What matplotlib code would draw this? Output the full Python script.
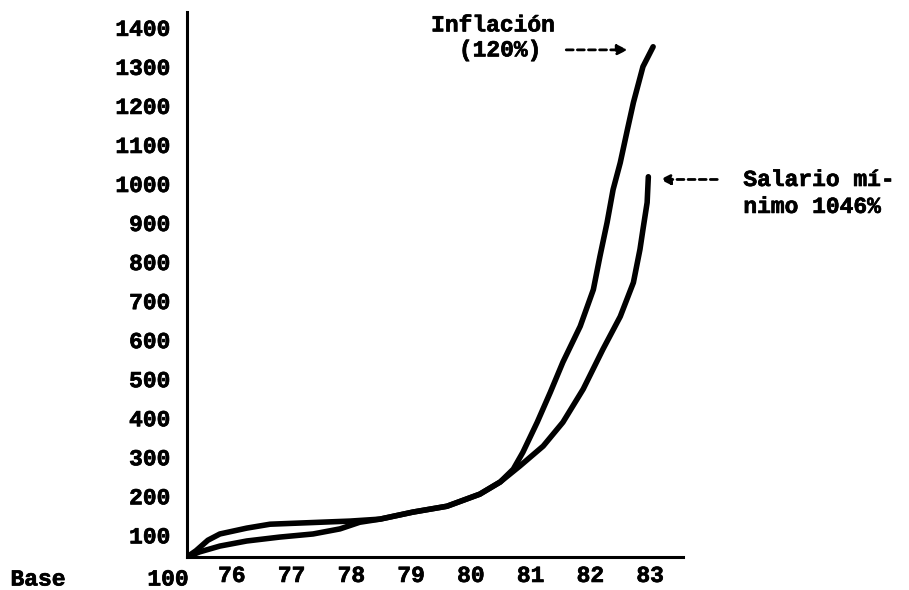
import matplotlib.pyplot as plt
import matplotlib.patheffects as pe

# typewritten chart: Base 100 = 1975
# the two curves split at the start, join around 78, split again after 80
infl_years = [75.25, 75.46, 75.80, 76.25, 76.80, 77.36, 77.81, 78.14,
              78.48, 79.03, 79.60, 80.15, 80.49, 80.71, 80.87, 81.11,
              81.33, 81.54, 81.83, 82.05, 82.16, 82.28, 82.38, 82.50,
              82.62, 82.72, 82.88, 83.05]
inflacion = [42, 55, 70, 83, 93, 101, 114, 131,
             139, 157, 172, 203, 234, 267, 310, 387,
             464, 541, 633, 727, 812, 899, 983, 1052,
             1137, 1206, 1298, 1349]

sal_years = [75.25, 75.40, 75.60, 75.80, 76.25, 76.64, 77.14, 77.64, 77.98,
             78.48, 79.03, 79.60, 80.15, 80.49, 80.82, 81.21, 81.54,
             81.88, 82.21, 82.50, 82.72, 82.83, 82.88, 82.95, 82.97]
salario = [42, 58, 85, 101, 116, 126, 129, 132, 134,
           139, 157, 172, 203, 234, 275, 326, 387,
           472, 574, 658, 745, 830, 881, 950, 1016]

y_ticks = [100, 200, 300, 400, 500, 600, 700, 800, 900, 1000, 1100, 1200, 1300, 1400]
x_ticks = [76, 77, 78, 79, 80, 81, 82, 83]
x_labels = ["76", "77", "78", "79", "80", "81", "82", "83"]

ink = [pe.withStroke(linewidth=0.5, foreground="black")]
font = {"family": "Liberation Mono", "weight": "bold", "size": 16.5}

fig = plt.figure(figsize=(9.09, 5.90), dpi=100)
ax = fig.add_axes([187 / 909, 1 - 557 / 590, (683 - 187) / 909, (557 - 12) / 590])

ax.plot(infl_years, inflacion, color="black", lw=4,
        solid_capstyle="round", solid_joinstyle="round")
ax.plot(sal_years, salario, color="black", lw=4,
        solid_capstyle="round", solid_joinstyle="round")

ax.spines["top"].set_visible(False)
ax.spines["right"].set_visible(False)
ax.spines["left"].set_linewidth(2.2)
ax.spines["bottom"].set_linewidth(2.2)

ax.set_yticks(y_ticks)
ax.set_yticklabels([str(v) for v in y_ticks], fontdict=font)
ax.set_xticks(x_ticks)
ax.set_xticklabels(x_labels, fontdict=font)
for lab in ax.get_xticklabels() + ax.get_yticklabels():
    lab.set_path_effects(ink)
ax.tick_params(axis="y", length=0, pad=12)
ax.tick_params(axis="x", length=0, pad=5)

# limits after the ticks, set_xticks widens the view otherwise
ax.set_xlim(75.25, 83.55)
ax.set_ylim(42, 1438)

# "Base 100" under the origin
fig.text(38 / 909, 1 - 579 / 590, "Base", ha="center", va="center",
         fontdict=font, path_effects=ink)
fig.text(168 / 909, 1 - 579 / 590, "100", ha="center", va="center",
         fontdict=font, path_effects=ink)

# Inflación annotation
ax.text(80.37, 1405, "Inflación", ha="center", va="center", fontdict=font, path_effects=ink)
ax.text(80.49, 1341, "(120%)", ha="center", va="center", fontdict=font, path_effects=ink)
ax.annotate("", xy=(82.67, 1341), xytext=(81.55, 1341),
            arrowprops=dict(arrowstyle="-|>,head_length=0.6,head_width=0.3",
                            color="black", lw=2, linestyle=(0, (2.5, 1.5))),
            annotation_clip=False)

# Salario mínimo annotation
ax.annotate("", xy=(83.12, 1009), xytext=(84.17, 1009),
            arrowprops=dict(arrowstyle="-|>,head_length=0.6,head_width=0.3",
                            color="black", lw=2, linestyle=(0, (2.5, 1.5))),
            annotation_clip=False)
ax.text(84.56, 1009, "Salario mí-", ha="left", va="center", fontdict=font, path_effects=ink)
ax.text(84.56, 940, "nimo 1046%", ha="left", va="center", fontdict=font, path_effects=ink)

plt.savefig("out.png", dpi=100)
